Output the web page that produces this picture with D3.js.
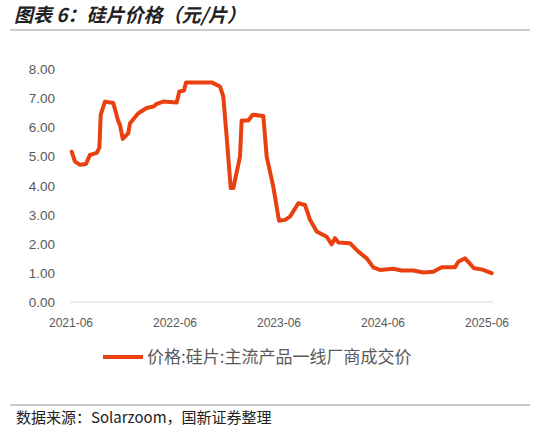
<!DOCTYPE html><html><head><meta charset="utf-8"><script src="https://cdn.jsdelivr.net/npm/d3@7"></script>
<style>body{margin:0;background:#fff}svg{font-family:"Noto Sans CJK SC","Liberation Sans",sans-serif}</style></head><body><svg id="c" width="539" height="433"></svg><script>
const months=[0.08,0.46,1.04,1.73,2.19,2.97,3.27,3.43,3.92,4.88,5.46,5.65,5.97,6.61,6.81,7.77,8.73,9.5,9.89,10.65,12.2,12.5,13.04,13.27,16.23,17.19,17.57,17.96,18.43,18.73,19.5,19.69,20.46,20.96,22.19,22.58,23.34,24.0,24.69,25.27,26.23,27.0,27.58,28.35,29.5,30.08,30.46,30.85,32.19,33.15,34.12,34.88,35.65,37.19,38.15,39.5,40.65,41.8,42.77,44.3,44.69,45.46,45.84,46.5,47.39,48.54];
const prices=[5.16,4.82,4.71,4.74,5.05,5.12,5.29,6.43,6.88,6.83,6.2,6.08,5.6,5.8,6.14,6.48,6.66,6.71,6.8,6.88,6.85,7.23,7.26,7.54,7.54,7.4,7.06,5.68,3.91,3.91,4.99,6.23,6.23,6.43,6.39,4.99,3.96,2.79,2.82,2.93,3.39,3.33,2.82,2.42,2.24,1.98,2.19,2.04,2.02,1.73,1.5,1.19,1.1,1.14,1.08,1.08,1.01,1.04,1.19,1.19,1.38,1.5,1.38,1.16,1.12,0.99];
const xTickLabels=["2021-06","2022-06","2023-06","2024-06","2025-06"];
const xTickMonths=[0,12,24,36,48];
const yTicks=[0,1,2,3,4,5,6,7,8];
const seriesName="价格:硅片:主流产品一线厂商成交价";
const svg=d3.select("#c");
const x=d3.scaleLinear().domain([0,48]).range([71,487]);
const y=d3.scaleLinear().domain([0,8]).range([302,69]);
svg.append("text").attr("x",14).attr("y",22).attr("font-size",19).attr("font-weight","bold").attr("font-style","italic").attr("fill","#222").text("图表 6：硅片价格（元/片）");
svg.append("line").attr("x1",10).attr("x2",530).attr("y1",30).attr("y2",30).attr("stroke","#999");
svg.append("line").attr("x1",70).attr("x2",493).attr("y1",302).attr("y2",302).attr("stroke","#d9d9d9");
svg.selectAll(".yt").data(yTicks).enter().append("text").attr("x",55).attr("y",d=>y(d)+5).attr("text-anchor","end").attr("font-size",13.5).attr("fill","#595959").attr("font-family","Liberation Sans").text(d=>d.toFixed(2));
svg.selectAll(".xt").data(xTickMonths).enter().append("text").attr("x",d=>x(d)).attr("y",327).attr("text-anchor","middle").attr("font-size",12).attr("fill","#595959").attr("font-family","Liberation Sans").text((d,i)=>xTickLabels[i]);
svg.append("path").datum(months.map((m,i)=>[m,prices[i]])).attr("fill","none").attr("stroke","#e8410f").attr("stroke-width",4).attr("stroke-linejoin","round").attr("stroke-linecap","round").attr("d",d3.line().x(d=>x(d[0])).y(d=>y(d[1])));
svg.append("line").attr("x1",103).attr("x2",143).attr("y1",357).attr("y2",357).attr("stroke","#e8410f").attr("stroke-width",4);
svg.append("text").attr("x",147).attr("y",363).attr("font-size",17).attr("fill","#595959").text(seriesName);
svg.append("line").attr("x1",10).attr("x2",530).attr("y1",405).attr("y2",405).attr("stroke","#999");
svg.append("text").attr("x",16).attr("y",423).attr("font-size",15).attr("fill","#222").text("数据来源：Solarzoom，国新证券整理");
</script></body></html>
